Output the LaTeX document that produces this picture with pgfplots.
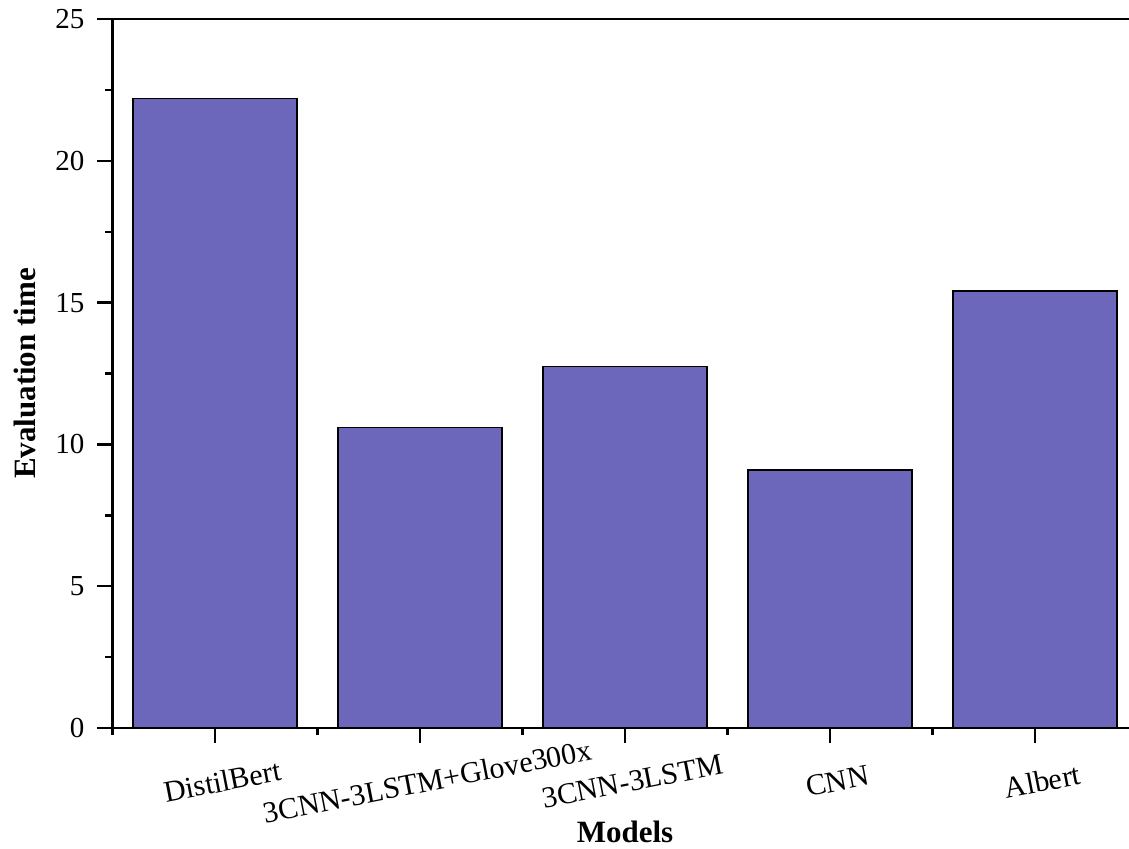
\documentclass[border=0pt]{standalone}
\usepackage{fontspec}
\setmainfont{Liberation Serif}
\usepackage{pgfplots}
\pgfplotsset{compat=1.18}
\definecolor{barcol}{RGB}{108,103,186}
\begin{document}
\begin{tikzpicture}
\path[use as bounding box, clip] (-56.25pt,-60pt) rectangle (508.25pt,364pt);
\begin{axis}[
  at={(0pt,0pt)}, anchor=south west,
  scale only axis, width=512.5pt, height=354.5pt,
  xmin=-0.5, xmax=4.5, ymin=0, ymax=25,
  ybar, bar width=0.8,
  xtick={0,1,2,3,4},
  xticklabels={DistilBert,3CNN-3LSTM+Glove300x,3CNN-3LSTM,CNN,Albert},
  minor xtick={-0.5,0.5,1.5,2.5,3.5,4.5},
  ytick={0,5,10,15,20,25},
  minor ytick={2.5,7.5,12.5,17.5,22.5},
  tick align=outside, tick pos=left,
  major tick length=7.5pt, minor tick length=3.5pt,
  axis line style={line width=1.4pt},
  every tick/.style={black, line width=1.2pt},
  /pgf/number format/assume math mode=true,
  yticklabel style={font=\fontsize{14.5}{16}\selectfont, xshift=-3pt},
  xticklabel style={font=\fontsize{15}{17}\selectfont, rotate=11, anchor=center, yshift=-19.5pt},
  xlabel={\textbf{Models}},
  ylabel={\textbf{Evaluation time}},
  xlabel style={font=\fontsize{15.5}{18}\selectfont, at={(axis description cs:0.5,-0.147)}, anchor=center},
  ylabel style={font=\fontsize{15.5}{18}\selectfont, at={(axis description cs:-0.0854,0.5)}, anchor=center},
]
\addplot[draw=black, line width=0.85pt, fill=barcol] coordinates {
  (0,22.2) (1,10.6) (2,12.75) (3,9.1) (4,15.4)
};
\end{axis}
\end{tikzpicture}
\end{document}
